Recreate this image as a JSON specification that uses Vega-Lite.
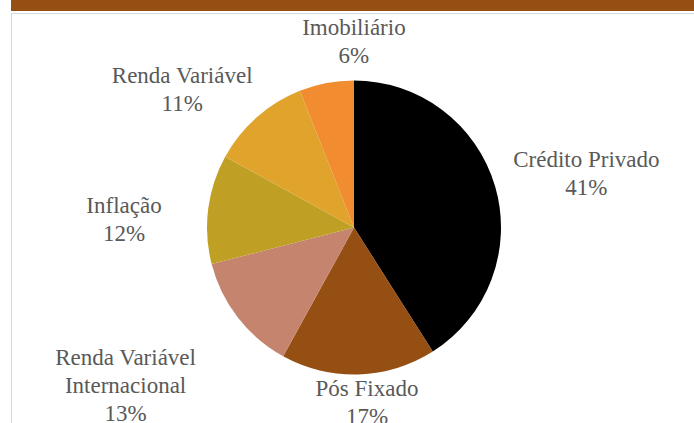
{
  "$schema": "https://vega.github.io/schema/vega-lite/v6.json",
  "padding": {"left": 10, "top": 0, "right": 0, "bottom": 0},
  "background": "white",
  "spacing": 1,
  "config": {"concat": {"spacing": 1}},
  "vconcat": [
    {
      "width": 686,
      "height": 11,
      "view": {"fill": "#954F13", "stroke": null},
      "data": {"values": [{"title": ""}]},
      "mark": {"type": "text", "color": "white", "font": "Liberation Serif", "fontSize": 1},
      "encoding": {"text": {"field": "title"}}
    },
    {
      "width": 686,
      "height": 429,
      "view": {"stroke": "#d9d9d9"},
      "data": {
        "values": [
          {"cat": "Crédito Privado", "v": 41, "o": 1, "label": "Crédito Privado\n41%"},
          {"cat": "Pós Fixado", "v": 17, "o": 2, "label": "Pós Fixado\n17%"},
          {"cat": "Renda Variável Internacional", "v": 13, "o": 3, "label": "Renda Variável\nInternacional\n13%"},
          {"cat": "Inflação", "v": 12, "o": 4, "label": "Inflação\n12%"},
          {"cat": "Renda Variável", "v": 11, "o": 5, "label": "Renda Variável\n11%"},
          {"cat": "Imobiliário", "v": 6, "o": 6, "label": "Imobiliário\n6%"}
        ]
      },
      "layer": [
        {
          "mark": {"type": "arc", "radius": 147},
          "encoding": {
            "theta": {"field": "v", "type": "quantitative", "stack": true},
            "order": {"field": "o", "type": "quantitative"},
            "color": {
              "field": "cat",
              "type": "nominal",
              "scale": {
                "domain": ["Crédito Privado", "Pós Fixado", "Renda Variável Internacional", "Inflação", "Renda Variável", "Imobiliário"],
                "range": ["#000000", "#954F13", "#C4846E", "#C0A024", "#E0A32C", "#F28C30"]
              },
              "legend": null
            }
          }
        },
        {
          "mark": {
            "type": "text", "font": "Liberation Serif, serif", "fontSize": 23, "color": "#595959",
            "lineBreak": "\n", "lineHeight": 28, "baseline": "middle", "align": "center",
            "thetaOffset": {"expr": "datum.o == 2 ? -0.049 : datum.o == 3 ? 0.141 : datum.o == 4 ? -0.033 : datum.o == 5 ? -0.126 : datum.o == 6 ? 0.188 : 0"},
            "radius": {"expr": "datum.o == 1 ? 242 : datum.o == 2 ? 162 : datum.o == 3 ? 263 : datum.o == 4 ? 231 : datum.o == 5 ? 229 : 200"}
          },
          "encoding": {
            "theta": {"field": "v", "type": "quantitative", "stack": true},
            "order": {"field": "o", "type": "quantitative"},
            "text": {"field": "label"}
          }
        }
      ]
    }
  ]
}
